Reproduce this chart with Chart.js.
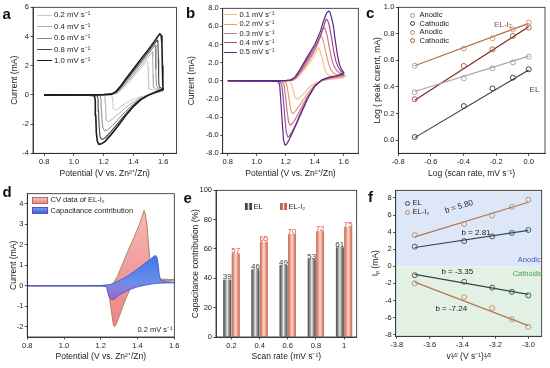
<!DOCTYPE html>
<html>
<head>
<meta charset="utf-8">
<title>CV and capacitance figure</title>
<script src="https://cdn.jsdelivr.net/npm/chart.js@4.4.1/dist/chart.umd.min.js"></script>
<style>
  body { margin: 0; background: #fff; }
  #wrap { position: relative; width: 550px; height: 368px; overflow: hidden; font-family: 'Liberation Sans', Arial, sans-serif; color: #222; }
  #wrap canvas { position: absolute; left: 0; top: 0; }
  .txt { position: absolute; white-space: nowrap; line-height: 1; }
  .leg-line { position: absolute; height: 0; }
  .leg-dot { position: absolute; border-radius: 50%; box-sizing: border-box; }
  .leg-box { position: absolute; box-sizing: border-box; }
</style>
</head>
<body>
<div id="wrap">
  <canvas id="chartA" width="550" height="368"></canvas>
  <canvas id="chartB" width="550" height="368"></canvas>
  <canvas id="chartC" width="550" height="368"></canvas>
  <canvas id="chartD" width="550" height="368"></canvas>
  <canvas id="chartE" width="550" height="368"></canvas>
  <canvas id="chartF" width="550" height="368"></canvas>
</div>
<script>
Chart.defaults.font.family = "'Liberation Sans', Arial, sans-serif";
Chart.defaults.color = '#222';
Chart.defaults.animation = false;

// ---------- (a) CV of EL, potential (V) / current (mA) around one loop ----------
const aRates = ['0.2', '0.4', '0.6', '0.8', '1.0'];
const aV02 = [0.8, 1.2, 1.275, 1.30, 1.33, 1.37, 1.41, 1.45, 1.48, 1.49, 1.495, 1.499, 1.501, 1.504, 1.54, 1.6,
              1.6, 1.55, 1.5, 1.45, 1.4, 1.35, 1.31, 1.29, 1.279, 1.269, 1.263, 1.26, 1.252, 1.2, 0.8];
const aI02 = [0, 0.02, 0.05, 0.15, 0.4, 0.85, 1.35, 1.82, 2.18, 2.28, 2.3, 1.9, 0.9, 0.42, 0.32, 0.28,
              0.26, 0.12, 0, -0.12, -0.3, -0.55, -0.85, -0.98, -1.03, -0.95, -0.6, -0.2, -0.04, -0.02, -0.02];
const aV04 = [0.8, 1.2, 1.265, 1.295, 1.325, 1.36, 1.4, 1.45, 1.5, 1.52, 1.527, 1.53, 1.532, 1.535, 1.56, 1.6,
              1.6, 1.55, 1.5, 1.45, 1.4, 1.35, 1.3, 1.26, 1.24, 1.229, 1.221, 1.216, 1.213, 1.21, 1.2, 0.8];
const aI04 = [0, 0.02, 0.05, 0.2, 0.48, 0.88, 1.35, 1.98, 2.6, 2.86, 2.96, 2.6, 1.4, 0.5, 0.38, 0.32,
              0.3, 0.13, -0.02, -0.2, -0.48, -0.85, -1.3, -1.65, -1.8, -1.83, -1.72, -1.3, -0.6, -0.12, -0.03, -0.02];
const aV06 = [0.8, 1.2, 1.26, 1.29, 1.32, 1.36, 1.4, 1.45, 1.5, 1.53, 1.542, 1.547, 1.55, 1.552, 1.555, 1.57, 1.6,
              1.6, 1.55, 1.5, 1.45, 1.4, 1.35, 1.3, 1.26, 1.225, 1.208, 1.197, 1.19, 1.186, 1.183, 1.175, 1.1, 0.8];
const aI06 = [0, 0.02, 0.05, 0.2, 0.5, 0.98, 1.5, 2.15, 2.8, 3.2, 3.38, 3.42, 3.1, 1.8, 0.6, 0.42, 0.36,
              0.33, 0.16, -0.02, -0.26, -0.62, -1.1, -1.65, -2.1, -2.4, -2.45, -2.35, -1.9, -1.0, -0.3, -0.05, -0.02, -0.02];
const aV08 = [0.8, 1.2, 1.255, 1.285, 1.315, 1.35, 1.4, 1.45, 1.5, 1.53, 1.55, 1.56, 1.565, 1.568, 1.57, 1.574, 1.6,
              1.6, 1.55, 1.5, 1.45, 1.4, 1.35, 1.3, 1.25, 1.215, 1.195, 1.185, 1.176, 1.17, 1.166, 1.163, 1.156, 1.1, 0.8];
const aI08 = [0, 0.02, 0.05, 0.2, 0.52, 1.0, 1.65, 2.3, 2.95, 3.35, 3.62, 3.75, 3.6, 2.5, 1.0, 0.55, 0.4,
              0.36, 0.18, -0.02, -0.3, -0.72, -1.28, -1.9, -2.5, -2.9, -3.03, -3.04, -2.85, -2.2, -1.1, -0.3, -0.05, -0.02, -0.02];
const aV10 = [0.8, 1.2, 1.25, 1.28, 1.31, 1.35, 1.4, 1.45, 1.5, 1.54, 1.565, 1.578, 1.587, 1.592, 1.595, 1.598, 1.6,
              1.6, 1.55, 1.5, 1.45, 1.4, 1.35, 1.3, 1.25, 1.21, 1.185, 1.168, 1.158, 1.151, 1.147, 1.144, 1.138, 1.1, 0.8];
const aI10 = [0, 0.02, 0.05, 0.2, 0.55, 1.1, 1.78, 2.45, 3.1, 3.65, 4.02, 4.17, 4.08, 3.5, 2.0, 0.7, 0.42,
              0.38, 0.2, -0.02, -0.32, -0.8, -1.4, -2.08, -2.72, -3.18, -3.35, -3.38, -3.2, -2.6, -1.4, -0.4, -0.06, -0.02, -0.02];
const aXTicks = [0.8, 1.0, 1.2, 1.4, 1.6];
const aYTicks = [-4, -2, 0, 2, 4, 6];

// ---------- (b) CV of EL-I2 ----------
const bRates = ['0.1', '0.2', '0.3', '0.4', '0.5'];
const bV01 = [0.8, 1.2, 1.255, 1.28, 1.31, 1.35, 1.39, 1.41, 1.422, 1.428, 1.435, 1.45, 1.465, 1.48, 1.5, 1.55, 1.6,
              1.6, 1.55, 1.5, 1.42, 1.37, 1.33, 1.3, 1.285, 1.276, 1.266, 1.255, 1.243, 1.232, 1.2, 0.8];
const bI01 = [0.02, 0.03, 0.08, 0.35, 0.9, 1.7, 2.6, 3.2, 3.6, 3.65, 3.4, 2.5, 1.5, 0.9, 0.55, 0.4, 0.35,
              0.35, 0.25, 0.15, -0.1, -0.6, -1.3, -1.8, -1.97, -2.0, -1.85, -1.3, -0.5, -0.1, -0.03, -0.02];
const bV02 = [0.8, 1.2, 1.25, 1.275, 1.3, 1.35, 1.39, 1.42, 1.435, 1.442, 1.45, 1.465, 1.48, 1.495, 1.51, 1.53, 1.56, 1.6,
              1.6, 1.55, 1.5, 1.45, 1.4, 1.35, 1.3, 1.27, 1.255, 1.246, 1.237, 1.227, 1.215, 1.205, 1.19, 1.1, 0.8];
const bI02 = [0.02, 0.03, 0.08, 0.35, 0.85, 1.95, 3.0, 4.1, 4.8, 4.95, 4.8, 4.0, 2.9, 1.9, 1.25, 0.85, 0.6, 0.5,
              0.5, 0.38, 0.25, 0.05, -0.45, -1.4, -2.6, -3.3, -3.55, -3.6, -3.35, -2.5, -1.2, -0.3, -0.06, -0.03, -0.02];
const bV03 = [0.8, 1.2, 1.245, 1.27, 1.3, 1.35, 1.4, 1.43, 1.45, 1.46, 1.47, 1.485, 1.5, 1.515, 1.53, 1.55, 1.575, 1.6,
              1.6, 1.55, 1.5, 1.45, 1.4, 1.35, 1.3, 1.26, 1.24, 1.23, 1.22, 1.21, 1.198, 1.188, 1.175, 1.1, 0.8];
const bI03 = [0.02, 0.03, 0.08, 0.35, 1.0, 2.2, 3.4, 4.5, 5.5, 5.9, 5.75, 5.0, 3.7, 2.5, 1.7, 1.15, 0.8, 0.6,
              0.6, 0.45, 0.3, 0.05, -0.55, -1.7, -3.2, -4.4, -4.8, -4.9, -4.6, -3.5, -1.7, -0.4, -0.08, -0.03, -0.02];
const bV04 = [0.8, 1.2, 1.24, 1.27, 1.3, 1.35, 1.4, 1.44, 1.46, 1.47, 1.478, 1.488, 1.5, 1.515, 1.53, 1.545, 1.56, 1.58, 1.6,
              1.6, 1.55, 1.5, 1.45, 1.4, 1.35, 1.3, 1.27, 1.24, 1.225, 1.214, 1.203, 1.193, 1.182, 1.172, 1.16, 1.1, 0.8];
const bI04 = [0.02, 0.03, 0.08, 0.4, 1.15, 2.45, 3.7, 5.0, 5.9, 6.45, 6.8, 6.7, 6.1, 4.8, 3.3, 2.2, 1.55, 1.05, 0.75,
              0.7, 0.5, 0.35, 0.1, -0.6, -1.9, -3.6, -4.8, -5.7, -6.1, -6.2, -5.7, -4.0, -1.8, -0.4, -0.08, -0.03, -0.02];
const bV05 = [0.8, 1.2, 1.23, 1.26, 1.3, 1.35, 1.4, 1.44, 1.46, 1.48, 1.495, 1.505, 1.515, 1.528, 1.54, 1.556, 1.57, 1.586, 1.6,
              1.6, 1.55, 1.5, 1.45, 1.4, 1.35, 1.3, 1.25, 1.22, 1.205, 1.195, 1.185, 1.175, 1.165, 1.158, 1.15, 1.1, 0.8];
const bI05 = [0.02, 0.03, 0.08, 0.35, 1.3, 2.7, 4.0, 5.5, 6.6, 7.45, 7.7, 7.55, 7.0, 6.1, 4.6, 2.85, 1.8, 1.2, 0.9,
              0.85, 0.55, 0.4, 0.1, -0.6, -2.0, -3.8, -5.6, -6.6, -7.0, -7.1, -6.6, -4.5, -2.0, -0.5, -0.1, -0.03, -0.02];
const bXTicks = [0.8, 1.0, 1.2, 1.4, 1.6];
const bYTicks = [-8, -6, -4, -2, 0, 2, 4, 6, 8];

// ---------- (c) log peak current vs log scan rate ----------
const cLogRate = [-0.699, -0.398, -0.222, -0.097, 0];
const cElAnodic = [0.36, 0.465, 0.54, 0.585, 0.628];
const cElCathodic = [0.023, 0.256, 0.389, 0.47, 0.533];
const cEliAnodic = [0.56, 0.69, 0.766, 0.834, 0.884];
const cEliCathodic = [0.307, 0.558, 0.683, 0.784, 0.847];
const cFitX = [-0.699, 0];
const cFitElAnodic = [0.365, 0.632];
const cFitElCathodic = [0.018, 0.528];
const cFitEliAnodic = [0.56, 0.879];
const cFitEliCathodic = [0.30, 0.854];
const cXTicks = [-0.8, -0.6, -0.4, -0.2, 0.0];
const cYTicks = [0.0, 0.2, 0.4, 0.6, 0.8, 1.0];

// ---------- (d) CV of EL-I2 at 0.2 mV/s and capacitive part ----------
const dCvV = [0.8, 1.2, 1.25, 1.27, 1.29, 1.32, 1.35, 1.38, 1.41, 1.425, 1.435, 1.443, 1.452, 1.46, 1.468, 1.478, 1.49, 1.52, 1.6,
              1.6, 1.5, 1.45, 1.4, 1.37, 1.355, 1.34, 1.32, 1.3, 1.285, 1.275, 1.268, 1.26, 1.252, 1.246, 1.24, 1.23, 1.2, 0.8];
const dCvI = [0, 0.02, 0.05, 0.15, 0.45, 1.1, 1.75, 2.35, 3.0, 3.4, 3.68, 3.5, 2.9, 2.0, 1.2, 0.65, 0.42, 0.33, 0.3,
              0.28, 0.2, 0.12, 0.03, -0.05, -0.25, -0.55, -1.0, -1.5, -1.85, -2.0, -1.9, -1.4, -0.9, -0.5, -0.15, -0.03, -0.01, 0];
const dCapV = [0.8, 1.2, 1.23, 1.26, 1.3, 1.35, 1.4, 1.44, 1.47, 1.49, 1.5, 1.507, 1.513, 1.518, 1.525, 1.55, 1.6,
               1.6, 1.55, 1.5, 1.45, 1.4, 1.35, 1.3, 1.28, 1.268, 1.255, 1.245, 1.237, 1.232, 1.22, 0.8];
const dCapI = [0, 0.01, 0.03, 0.08, 0.25, 0.5, 0.82, 1.1, 1.3, 1.45, 1.48, 1.35, 1.0, 0.55, 0.3, 0.2, 0.18,
               0.15, 0.14, 0.12, 0.05, -0.05, -0.2, -0.45, -0.6, -0.68, -0.65, -0.55, -0.3, -0.08, -0.01, 0];
const dXTicks = [0.8, 1.0, 1.2, 1.4, 1.6];
const dYTicks = [-2, -1, 0, 1, 2, 3, 4];

// ---------- (e) capacitance contribution (%) ----------
const eRates = [0.2, 0.4, 0.6, 0.8, 1];
const eEL = [39, 46, 49, 53, 61];
const eELI = [57, 65, 70, 72, 75];
const eYTicks = [0, 20, 40, 60, 80, 100];

// ---------- (f) peak current vs v^1/2 ----------
const fX = [-3.69, -3.39, -3.22, -3.10, -3.00];
const fElAnodic = [2.3, 2.95, 3.5, 3.9, 4.25];
const fEliAnodic = [3.65, 4.95, 5.95, 6.95, 7.8];
const fElCathodic = [-1.05, -1.8, -2.5, -3.0, -3.4];
const fEliCathodic = [-2.0, -3.6, -4.9, -6.2, -7.1];
const fFitX = [-3.69, -3.0];
const fFitElAnodic = [2.2, 4.2];
const fFitEliAnodic = [3.45, 7.5];
const fFitElCathodic = [-0.95, -3.3];
const fFitEliCathodic = [-1.85, -6.95];
const fXTicks = [-3.8, -3.6, -3.4, -3.2, -3.0];
const fYTicks = [-8, -6, -4, -2, 0, 2, 4, 6, 8];

// ---------- helpers ----------
const pts = (xs, ys) => xs.map((x, i) => ({ x, y: ys[i] }));
const fixed = n => v => v.toFixed(n);
const TICK_SIZE = 7.5;
const TITLE_SIZE = 8.5;

function zeroPad(s) {
  s.paddingLeft = 0; s.paddingRight = 0; s.paddingTop = 0; s.paddingBottom = 0;
}

function axis(position, min, max, tickVals, fmt, title) {
  return {
    type: 'linear', position, min, max, offset: false,
    afterBuildTicks: s => { s.ticks = tickVals.map(v => ({ value: v })); },
    ticks: { callback: (v, i) => fmt(tickVals[i]), font: { size: TICK_SIZE }, color: '#222', padding: 1.5,
             autoSkip: false, maxRotation: 0, minRotation: 0 },
    grid: { drawOnChartArea: false, drawTicks: true, tickLength: 2.5, tickColor: '#222', tickWidth: 0.8, offset: false },
    border: { display: true, color: '#222', width: 0.8 },
    title: { display: true, text: title, font: { size: TITLE_SIZE }, color: '#222', padding: 0 }
  };
}

// box around each plot area
const framePlugin = {
  id: 'frame',
  afterDraw(chart) {
    const { ctx, chartArea: a } = chart;
    ctx.save();
    ctx.strokeStyle = '#222';
    ctx.lineWidth = 0.8;
    ctx.strokeRect(a.left, a.top, a.right - a.left, a.bottom - a.top);
    ctx.restore();
  }
};

// fill the inside of a closed CV loop, using the points the library placed
const loopFillPlugin = {
  id: 'loopFill',
  beforeDatasetDraw(chart, args) {
    const ds = chart.data.datasets[args.index];
    if (!ds.loopFill) return;
    const ctx = chart.ctx;
    const a = chart.chartArea;
    ctx.save();
    ctx.beginPath();
    ctx.rect(a.left, a.top, a.right - a.left, a.bottom - a.top);
    ctx.clip();
    ctx.beginPath();
    args.meta.data.forEach((p, i) => i ? ctx.lineTo(p.x, p.y) : ctx.moveTo(p.x, p.y));
    ctx.closePath();
    ctx.fillStyle = typeof ds.loopFill === 'function' ? ds.loopFill(chart) : ds.loopFill;
    ctx.fill();
    ctx.restore();
  }
};

// cylinder-like shading over each bar
const barShadePlugin = {
  id: 'barShade',
  afterDatasetDraw(chart, args) {
    const stops = chart.data.datasets[args.index].shade;
    if (!stops) return;
    const ctx = chart.ctx;
    args.meta.data.forEach(bar => {
      const { x, y, base, width } = bar.getProps(['x', 'y', 'base', 'width'], true);
      const g = ctx.createLinearGradient(x - width / 2, 0, x + width / 2, 0);
      stops.forEach((c, i) => g.addColorStop(i / (stops.length - 1), c));
      ctx.fillStyle = g;
      ctx.fillRect(x - width / 2, y, width, base - y);
    });
  }
};

// numbers on top of the bars
const barValuePlugin = {
  id: 'barValue',
  afterDatasetsDraw(chart) {
    const ctx = chart.ctx;
    ctx.save();
    ctx.font = "8px 'Liberation Sans', Arial, sans-serif";
    ctx.textAlign = 'center';
    ctx.textBaseline = 'alphabetic';
    chart.data.datasets.forEach((ds, di) => {
      ctx.fillStyle = ds.valueColor;
      chart.getDatasetMeta(di).data.forEach((bar, j) => {
        ctx.fillText(String(ds.data[j].y), bar.x, bar.y - 0.3);
      });
    });
    ctx.restore();
  }
};

// anodic / cathodic shading in panel f
const regionPlugin = {
  id: 'regions',
  beforeDatasetsDraw(chart) {
    const { ctx, chartArea: a, scales } = chart;
    const y0 = scales.y.getPixelForValue(0);
    ctx.save();
    ctx.fillStyle = '#dde7f7';
    ctx.fillRect(a.left, a.top, a.right - a.left, y0 - a.top);
    ctx.fillStyle = '#e3f1e4';
    ctx.fillRect(a.left, y0, a.right - a.left, a.bottom - y0);
    ctx.restore();
  }
};

function panel(id, type, box, yTitleX, xTitleY, scales, datasets, plugins) {
  const half = TITLE_SIZE * 0.6;
  const padLeft = yTitleX - half;
  const xBottom = xTitleY + half;
  scales.x.afterFit = s => { s.height = xBottom - box.b; zeroPad(s); };
  scales.y.afterFit = s => { s.width = box.l - padLeft; zeroPad(s); };
  return new Chart(document.getElementById(id), {
    type,
    data: { datasets },
    options: {
      responsive: false, animation: false, events: [],
      layout: { padding: { left: padLeft, top: box.t, right: 550 - box.r, bottom: 368 - xBottom } },
      scales,
      plugins: { legend: { display: false }, tooltip: { enabled: false } }
    },
    plugins: [framePlugin].concat(plugins || [])
  });
}

const curve = (xs, ys, color, width, order) => ({
  data: pts(xs, ys), borderColor: color, borderWidth: width, pointRadius: 0, fill: false, order
});
const markers = (xs, ys, color, order) => ({
  data: pts(xs, ys), showLine: false, pointRadius: 2.5, pointBorderWidth: 0.9,
  pointBorderColor: color, pointBackgroundColor: 'rgba(0,0,0,0)', order
});

// ---------- panel a ----------
const aColors = ['#c9c9c9', '#acacac', '#878787', '#464646', '#1c1c1c'];
const aWidths = [1, 1, 1, 1.1, 1.6];
const aCurves = [[aV02, aI02], [aV04, aI04], [aV06, aI06], [aV08, aI08], [aV10, aI10]];
panel('chartA', 'line', { l: 33, t: 7.3, r: 176.5, b: 153.3 }, 14.7, 173.3,
  { x: axis('bottom', 0.725, 1.69, aXTicks, fixed(1), 'Potential (V vs. Zn²⁺/Zn)'),
    y: axis('left', -4, 6, aYTicks, fixed(0), 'Current (mA)') },
  aCurves.map(([v, i], k) => curve(v, i, aColors[k], aWidths[k], 5 - k)));

// ---------- panel b ----------
const bColors = ['#f3c38d', '#e09f78', '#c9768c', '#a04a98', '#5a2a86'];
const bCurves = [[bV01, bI01], [bV02, bI02], [bV03, bI03], [bV04, bI04], [bV05, bI05]];
panel('chartB', 'line', { l: 222.7, t: 8.3, r: 358.3, b: 153.3 }, 191.7, 173.3,
  { x: axis('bottom', 0.765, 1.70, bXTicks, fixed(1), 'Potential (V vs. Zn²⁺/Zn)'),
    y: axis('left', -8, 8, bYTicks, fixed(1), 'Current (mA)') },
  bCurves.map(([v, i], k) => curve(v, i, bColors[k], 1.2, 5 - k)));

// ---------- panel c ----------
panel('chartC', 'line', { l: 398.3, t: 7.3, r: 545, b: 153.3 }, 378, 174,
  { x: axis('bottom', -0.8, 0.1, cXTicks, fixed(1), 'Log (scan rate, mV s⁻¹)'),
    y: axis('left', -0.1, 1.0, cYTicks, fixed(1), 'Log ( peak curent, mA)') },
  [
    curve(cFitX, cFitElAnodic, '#a6a6a6', 1.1, 2),
    curve(cFitX, cFitElCathodic, '#3a3a3a', 1.1, 2),
    curve(cFitX, cFitEliAnodic, '#b86a3c', 1.2, 2),
    curve(cFitX, cFitEliCathodic, '#7a2a1e', 1.2, 2),
    markers(cLogRate, cElAnodic, '#9a9a9a', 1),
    markers(cLogRate, cElCathodic, '#333333', 1),
    markers(cLogRate, cEliAnodic, '#c8946a', 1),
    markers(cLogRate, cEliCathodic, '#a85444', 1)
  ]);

// ---------- panel d ----------
panel('chartD', 'line', { l: 27.3, t: 193.7, r: 174.3, b: 337 }, 14, 357,
  { x: axis('bottom', 0.8, 1.6, dXTicks, fixed(1), 'Potential (V vs. Zn²⁺/Zn)'),
    y: axis('left', -2.5, 4.5, dYTicks, fixed(0), 'Current (mA)') },
  [
    Object.assign(curve(dCvV, dCvI, '#a08058', 0.9, 2), {
      loopFill: chart => {
        const y = chart.scales.y;
        const g = chart.ctx.createLinearGradient(0, y.getPixelForValue(3.7), 0, y.getPixelForValue(-2));
        g.addColorStop(0, '#f6b7b3'); g.addColorStop(1, '#ec8484');
        return g;
      }
    }),
    Object.assign(curve(dCapV, dCapI, '#4a5ad6', 0.9, 1), {
      loopFill: chart => {
        const y = chart.scales.y;
        const g = chart.ctx.createLinearGradient(0, y.getPixelForValue(1.5), 0, y.getPixelForValue(-0.7));
        g.addColorStop(0, '#3c78e6'); g.addColorStop(0.6, '#6a8dea');
        g.addColorStop(0.75, '#8a7fdc'); g.addColorStop(1, '#9b62cf');
        return g;
      }
    })
  ],
  [loopFillPlugin]);

// ---------- panel e ----------
panel('chartE', 'bar', { l: 216, t: 190.3, r: 356.7, b: 337 }, 195.7, 357,
  { x: axis('bottom', 0.09, 1.09, eRates, v => String(v), 'Scan rate (mV s⁻¹)'),
    y: axis('left', 0, 100, eYTicks, fixed(0), 'Capacitance contribution (%)') },
  [
    { data: pts(eRates, eEL), backgroundColor: '#7a7a7a', categoryPercentage: 0.6, barPercentage: 0.92,
      shade: ['#4a4a4a', '#8a8a8a', '#e6e6e6', '#8a8a8a', '#4a4a4a'], valueColor: '#3a3a3a' },
    { data: pts(eRates, eELI), backgroundColor: '#e09080', categoryPercentage: 0.6, barPercentage: 0.92,
      shade: ['#c8654e', '#e59a84', '#fbd9cd', '#e59a84', '#c8654e'], valueColor: '#d8483c' }
  ],
  [barShadePlugin, barValuePlugin]);

// ---------- panel f ----------
panel('chartF', 'line', { l: 395.7, t: 190.3, r: 541.7, b: 336.3 }, 375.7, 357,
  { x: axis('bottom', -3.806, -2.919, fXTicks, fixed(1), 'v¹⁄² (V s⁻¹)¹⁄²'),
    y: axis('left', -8.2, 8.9, fYTicks, fixed(0), 'Iₚ (mA)') },
  [
    curve(fFitX, fFitElAnodic, '#2f4a4a', 1.2, 2),
    curve(fFitX, fFitEliAnodic, '#b07850', 1.2, 2),
    curve(fFitX, fFitElCathodic, '#2f4a4a', 1.2, 2),
    curve(fFitX, fFitEliCathodic, '#b07850', 1.2, 2),
    markers(fX, fElAnodic, '#3a4c4c', 1),
    markers(fX, fEliAnodic, '#c08a66', 1),
    markers(fX, fElCathodic, '#3a4c4c', 1),
    markers(fX, fEliCathodic, '#c08a66', 1)
  ],
  [regionPlugin]);

// ---------- text, legends and panel letters ----------
const wrap = document.getElementById('wrap');

function text(str, x, y, o = {}) {
  const d = document.createElement('div');
  d.className = 'txt';
  d.innerHTML = str;
  d.style.left = x + 'px';
  d.style.top = y + 'px';
  d.style.fontSize = (o.size || 7) + 'px';
  if (o.color) d.style.color = o.color;
  if (o.bold) d.style.fontWeight = 'bold';
  const tx = o.align === 'left' ? '0' : '-50%';
  d.style.transform = `translate(${tx}, -50%)` + (o.rot ? ` rotate(${o.rot}deg)` : '');
  wrap.appendChild(d);
}

function legLine(x1, x2, y, color, width) {
  const d = document.createElement('div');
  d.className = 'leg-line';
  d.style.left = x1 + 'px';
  d.style.width = (x2 - x1) + 'px';
  d.style.top = (y - width / 2) + 'px';
  d.style.borderTop = width + 'px solid ' + color;
  wrap.appendChild(d);
}

function legDot(cx, cy, color) {
  const d = document.createElement('div');
  d.className = 'leg-dot';
  d.style.left = (cx - 2.5) + 'px';
  d.style.top = (cy - 2.5) + 'px';
  d.style.width = '5px';
  d.style.height = '5px';
  d.style.border = '0.9px solid ' + color;
  wrap.appendChild(d);
}

function legBox(x, y, w, h, bg, border) {
  const d = document.createElement('div');
  d.className = 'leg-box';
  d.style.left = x + 'px';
  d.style.top = y + 'px';
  d.style.width = w + 'px';
  d.style.height = h + 'px';
  d.style.background = bg;
  if (border) d.style.border = '0.8px solid ' + border;
  wrap.appendChild(d);
}

// panel letters
[['a', 2.5, 13.2], ['b', 186, 12.3], ['c', 366, 11.8],
 ['d', 2.5, 191.3], ['e', 183.5, 196.8], ['f', 368, 196.3]].forEach(([s, x, y]) =>
  text(s, x, y, { size: 15, bold: true, align: 'left', color: '#111' }));

// legend a
aRates.forEach((r, k) => {
  const y = 15 + 11.5 * k;
  legLine(37, 52, y, aColors[k], aWidths[k]);
  text(r + ' mV s⁻¹', 54, y, { size: 7.8, align: 'left' });
});

// legend b
bRates.forEach((r, k) => {
  const y = 15 + 9.3 * k;
  legLine(224, 237, y, bColors[k], 1.2);
  text(r + ' mV s⁻¹', 239.5, y, { size: 7.5, align: 'left' });
});

// legend c
[['Anodic', '#9a9a9a'], ['Cathodic', '#333333'], ['Anodic', '#c8946a'], ['Cathodic', '#a85444']]
  .forEach(([s, c], k) => {
    const y = 15 + 8.6 * k;
    legDot(412.7, y, c);
    text(s, 419.5, y, { size: 7.5, align: 'left' });
  });
text('EL-I₂', 503, 24.5, { size: 8, color: '#a0503a' });
text('EL', 534.5, 89.5, { size: 8, color: '#444' });

// legend d
legBox(31.7, 196.5, 16.5, 7, 'linear-gradient(#f8c4c0, #e98282)', '#a07860');
legBox(31.7, 207.3, 16.5, 7, 'linear-gradient(#6f9af0, #3c68d8)', '#7048c0');
text('CV data of EL-I₂', 50.5, 200, { size: 7.5, align: 'left' });
text('Capacitance contribution', 50.5, 210.8, { size: 7.5, align: 'left' });
text('0.2 mV s⁻¹', 155, 329.7, { size: 7.5 });

// legend e
legBox(245, 203, 7, 7, 'linear-gradient(90deg, #3e3e3e, #4a4a4a 30%, #e6e6e6 50%, #4a4a4a 70%, #3e3e3e)');
legBox(280, 203, 7, 7, 'linear-gradient(90deg, #c05a44, #c8654e 30%, #fbd9cd 50%, #c8654e 70%, #c05a44)');
text('EL', 253.5, 206.5, { size: 7.5, align: 'left' });
text('EL-I₂', 288.5, 206.5, { size: 7.5, align: 'left' });

// legend and notes f
legDot(407.7, 203, '#3a4c4c');
legDot(407.7, 212.3, '#c08a66');
text('EL', 412.5, 203, { size: 7.5, align: 'left' });
text('EL-I₂', 412.5, 212.3, { size: 7.5, align: 'left' });
text('b = 5.80', 459, 206.5, { size: 8, rot: -17 });
text('b = 2.81', 476, 233, { size: 8 });
text('b = -3.35', 457.3, 272.3, { size: 8 });
text('b = -7.24', 451.3, 309, { size: 8 });
text('Anodic', 529.3, 260.3, { size: 7.5, color: '#3f5fae' });
text('Cathodic', 527.5, 273.7, { size: 7.5, color: '#4a9a4a' });
</script>
</body>
</html>
